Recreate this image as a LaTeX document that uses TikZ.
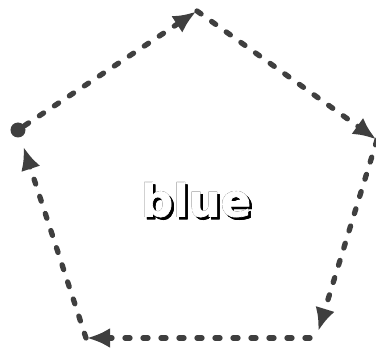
\documentclass[tikz,border=0pt]{standalone}
\usepackage{fontspec}
\usepackage{xcolor}
\usepackage[outline]{contour}
\usetikzlibrary{arrows.meta}
\newfontfamily\lblfont{DejaVu Sans}[FakeBold=1.5]
\definecolor{edgegray}{HTML}{3F3F3F}
\contourlength{1.1pt}
\tikzset{
  cycedge/.style={-{Latex[length=23pt,width=20pt]}, line width=5.3pt, line cap=round,
                  dash pattern=on 5pt off 13pt, draw=edgegray, shorten >=1pt},
  startdot/.style={circle, fill=edgegray, inner sep=0pt, minimum size=15pt},
  lbl/.style={font=\lblfont\bfseries\fontsize{45}{45}\selectfont, inner sep=0pt},
}

\begin{document}
\begin{tikzpicture}[x=1pt, y=-1pt]
  \useasboundingbox (0,0) rectangle (376,350);
  % --- corners
  \coordinate (pa) at (18,130);
  \coordinate (pb) at (197,11);
  \coordinate (pc) at (377,140);
  \coordinate (pd) at (318,332);
  \coordinate (pe) at (86,338);
  \node[startdot] (st) at (pa) {};

  % --- label (shadow + outlined text)
  \node[lbl] (lbl) at (196,201)
    {\makebox[0pt][l]{\hspace{2.5pt}\raisebox{-2.5pt}{\contour{black}{blue}}}\contour{black}{\textcolor{white}{blue}}};

  % --- edges
  \draw[cycedge] (st) -- (pb);
  \draw[cycedge] (pb) -- (pc);
  \draw[cycedge] (pc) -- (pd);
  \draw[cycedge] (310,338) -- (pe);
  \draw[cycedge, shorten >=10pt] (pe) -- (st);
\end{tikzpicture}
\end{document}
